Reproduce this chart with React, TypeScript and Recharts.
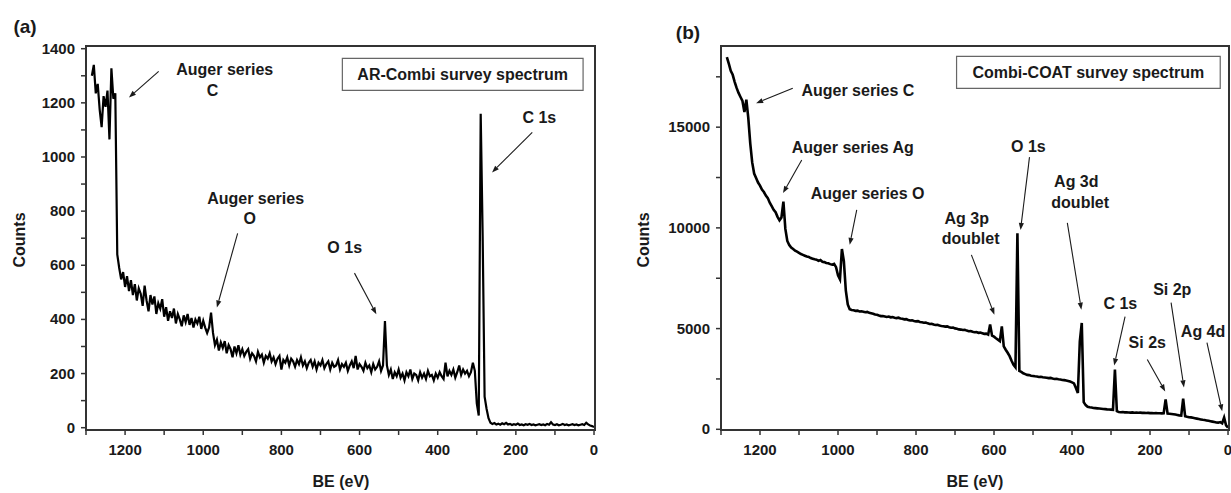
import {
  Line,
  LineChart,
  ReferenceArea,
  ReferenceDot,
  ReferenceLine,
  XAxis,
  YAxis,
} from "recharts";

const FONT = '"Liberation Sans", Arial, Helvetica, sans-serif';
const INK = "#1a1a1a";
const FRAME = "#333";

// binding energy sampling of both surveys: 1285 eV down to 0 eV in 5 eV steps
const BE_START = 1285;
const BE_STEP = 5;
const BE_DOMAIN: [number, number] = [-2.5, 1300];

// (a) AR-Combi survey, counts
const arCombiCounts = [
  1300, 1340, 1235, 1270, 1175, 1110, 1225, 1185, 1245, 1065, // 1285-1240
  1328, 1215, 1235, 640, 590, 548, 575, 520, 560, 505, // 1235-1190
  545, 490, 530, 470, 515, 495, 450, 525, 470, 430, // 1185-1140
  490, 455, 485, 420, 460, 440, 475, 410, 445, 395, // 1135-1090
  430, 405, 440, 385, 420, 400, 375, 415, 390, 420, // 1085-1040
  380, 405, 370, 400, 385, 410, 365, 395, 370, 350, // 1035-990
  370, 425, 350, 305, 325, 285, 315, 295, 320, 275, // 985-940
  305, 290, 260, 300, 275, 305, 270, 290, 265, 280, // 935-890
  290, 255, 275, 265, 245, 280, 260, 270, 240, 265, // 885-840
  255, 275, 245, 260, 235, 255, 265, 215, 250, 240, // 835-790
  260, 230, 255, 245, 225, 250, 235, 260, 230, 245, // 785-740
  220, 240, 250, 225, 245, 215, 240, 230, 250, 220, // 735-690
  235, 245, 215, 240, 225, 230, 250, 215, 235, 225, // 685-640
  240, 210, 230, 245, 220, 265, 215, 235, 225, 210, // 635-590
  240, 220, 230, 205, 235, 215, 225, 245, 210, 230, // 585-540
  394, 230, 195, 215, 180, 205, 190, 215, 185, 200, // 535-490
  175, 205, 190, 215, 180, 200, 195, 175, 205, 185, // 485-440
  200, 180, 210, 190, 195, 175, 200, 185, 205, 190, // 435-390
  180, 240, 190, 210, 195, 215, 185, 205, 230, 195, // 385-340
  215, 200, 210, 190, 205, 240, 210, 90, 45, 1160, // 335-290
  710, 115, 70, 35, 18, 14, 17, 12, 15, 11, // 285-240
  16, 13, 18, 12, 14, 10, 13, 11, 15, 10, // 235-190
  12, 9, 13, 11, 14, 10, 12, 9, 11, 13, // 185-140
  10, 12, 9, 14, 11, 20, 12, 10, 13, 9, // 135-90
  11, 14, 10, 12, 9, 11, 13, 10, 12, 9, // 85-40
  11, 13, 10, 18, 12, 8, 6, 2, // 35-0
];

// (b) Combi-COAT survey
const combiCoatCounts = [
  18480, 18150, 17800, 17600, 17250, 16950, 16700, 16500, 16300, 15750, // 1285-1240
  16370, 15450, 14200, 13250, 12700, 12480, 12250, 12100, 11900, 11780, // 1235-1190
  11600, 11480, 11250, 11080, 10900, 10780, 10550, 10380, 10520, 11300, // 1185-1140
  9950, 9350, 9150, 9020, 8950, 8870, 8820, 8760, 8700, 8660, // 1135-1090
  8620, 8580, 8560, 8500, 8470, 8440, 8420, 8360, 8400, 8320, // 1085-1040
  8300, 8260, 8240, 8200, 8170, 8210, 8050, 7650, 7450, 8950, // 1035-990
  8350, 6900, 6200, 5960, 5920, 5910, 5880, 5890, 5850, 5860, // 985-940
  5840, 5810, 5830, 5780, 5760, 5740, 5700, 5690, 5650, 5620, // 935-890
  5620, 5600, 5580, 5600, 5560, 5570, 5540, 5520, 5540, 5500, // 885-840
  5490, 5460, 5470, 5430, 5400, 5410, 5380, 5360, 5370, 5330, // 835-790
  5310, 5290, 5300, 5260, 5230, 5240, 5200, 5180, 5190, 5150, // 785-740
  5130, 5120, 5100, 5110, 5070, 5040, 5050, 5010, 4990, 4960, // 735-690
  4950, 4930, 4940, 4900, 4870, 4880, 4840, 4820, 4830, 4790, // 685-640
  4800, 4770, 4740, 4750, 4700, 5200, 4650, 4600, 4520, 4450, // 635-590
  4380, 5110, 4120, 3950, 3800, 3630, 3400, 3200, 3080, 9730, // 585-540
  2900, 2850, 2780, 2740, 2700, 2690, 2660, 2650, 2630, 2620, // 535-490
  2600, 2610, 2580, 2570, 2560, 2540, 2550, 2520, 2500, 2510, // 485-440
  2480, 2470, 2450, 2440, 2420, 2400, 2370, 2330, 2280, 2050, // 435-390
  1800, 4370, 5280, 1350, 1200, 1120, 1090, 1080, 1060, 1050, // 385-340
  1040, 1030, 1020, 1010, 1000, 990, 985, 975, 965, 2970, // 335-290
  900, 860, 850, 855, 840, 845, 835, 830, 840, 825, // 285-240
  830, 820, 825, 815, 820, 810, 815, 805, 810, 800, // 235-190
  805, 795, 800, 790, 795, 1485, 780, 770, 760, 750, // 185-140
  730, 710, 690, 680, 1520, 650, 620, 600, 590, 570, // 135-90
  550, 530, 510, 490, 470, 460, 440, 420, 400, 380, // 85-40
  360, 340, 330, 360, 300, 580, 200, 85, // 35-0
];

const beTicks = [1300, 1200, 1100, 1000, 900, 800, 700, 600, 500, 400, 300, 200, 100, 0];
const beLabels = [1200, 1000, 800, 600, 400, 200, 0];
const countTicksA = [0, 100, 200, 300, 400, 500, 600, 700, 800, 900, 1000, 1100, 1200, 1300, 1400];
const countLabelsA = [0, 200, 400, 600, 800, 1000, 1200, 1400];
const countTicksB = [0, 2500, 5000, 7500, 10000, 12500, 15000, 17500];
const countLabelsB = [0, 5000, 10000, 15000];

// annotations, placed in data coordinates [BE, counts]
const notesA: [string, number, number][] = [
  ["Auger series", 945, 1324],
  ["C", 976, 1246],
  ["Auger series", 866, 848],
  ["O", 881, 773],
  ["O 1s", 638, 667],
  ["C 1s", 140, 1146],
];
const arrowsA: [number, number, number, number][] = [
  [1114, 1316, 1190, 1220],
  [912, 718, 965, 444],
  [613, 571, 557, 419],
  [158, 1091, 261, 943],
];
const notesB: [string, number, number][] = [
  ["Auger series C", 949, 16830],
  ["Auger series Ag", 962, 14010],
  ["Auger series O", 924, 11730],
  ["O 1s", 512, 14060],
  ["Ag 3d", 389, 12280],
  ["doublet", 379, 11240],
  ["Ag 3p", 670, 10490],
  ["doublet", 660, 9455],
  ["C 1s", 276, 6240],
  ["Si 2s", 207, 4300],
  ["Si 2p", 143, 6930],
  ["Ag 4d", 64, 4850],
];
const arrowsB: [number, number, number, number][] = [
  [1116, 16930, 1210, 16190],
  [1093, 13365, 1141, 11730],
  [952, 10890, 970, 9160],
  [509, 13510, 532, 9900],
  [412, 10250, 376, 5940],
  [658, 8660, 599, 5690],
  [264, 5590, 292, 3170],
  [207, 3465, 161, 1880],
  [146, 6290, 113, 2080],
  [54, 4300, 15, 890],
];

const toRows = (counts: number[]) =>
  counts.map((c, i) => ({ be: BE_START - i * BE_STEP, counts: c }));

const textStyle = { fontFamily: FONT, fontWeight: 700, fill: INK };

const xTick = (p: any) => {
  const v = p.payload.value;
  if (!beLabels.includes(v)) return <g />;
  return (
    <text x={p.x} y={p.y + 18} textAnchor="middle" fontSize={15} {...textStyle}>
      {v}
    </text>
  );
};

const yTick = (labels: number[]) => (p: any) => {
  const v = p.payload.value;
  if (!labels.includes(v)) return <g />;
  return (
    <text x={p.x - 4} y={p.y + 5} textAnchor="end" fontSize={15} {...textStyle}>
      {v}
    </text>
  );
};

const arrow = (p: any) => {
  const { x1, y1, x2, y2 } = p;
  const a = Math.atan2(y2 - y1, x2 - x1);
  const bx = x2 - 7 * Math.cos(a);
  const by = y2 - 7 * Math.sin(a);
  const s = Math.sin(a) * 2.6;
  const c = Math.cos(a) * 2.6;
  return (
    <g>
      <line x1={x1} y1={y1} x2={bx} y2={by} stroke={INK} strokeWidth={1.1} />
      <polygon points={`${x2},${y2} ${bx + s},${by - c} ${bx - s},${by + c}`} fill={INK} />
    </g>
  );
};

const note = (text: string, size = 16) => (p: any) => (
  <text x={p.cx} y={p.cy} textAnchor="middle" dominantBaseline="central" fontSize={size} {...textStyle}>
    {text}
  </text>
);

type PanelProps = {
  rows: { be: number; counts: number }[];
  yDomain: [number, number];
  yTicks: number[];
  yLabels: number[];
  yAxisWidth: number;
  width: number;
  right: number;
  notes: [string, number, number][];
  arrows: [number, number, number, number][];
  box: [number, number, number, number];
  boxText: string;
  lineWidth: number;
};

const TOP = 46;
const BOTTOM_GAP = 3;
const X_AXIS_H = 60;
const HEIGHT = 493;

function Survey(props: PanelProps) {
  const { rows, yDomain, box } = props;
  const plotLeft = props.yAxisWidth;
  const plotRight = props.width - props.right;
  const plotBottom = HEIGHT - BOTTOM_GAP - X_AXIS_H;
  return (
    <div style={{ position: "relative", width: props.width, height: HEIGHT }}>
      <LineChart
        width={props.width}
        height={HEIGHT}
        data={rows}
        margin={{ top: TOP, right: props.right, bottom: BOTTOM_GAP, left: 0 }}
      >
        <XAxis
          dataKey="be"
          type="number"
          domain={BE_DOMAIN}
          reversed
          allowDataOverflow
          ticks={beTicks}
          interval={0}
          height={X_AXIS_H}
          tickSize={5}
          axisLine={{ stroke: FRAME, strokeWidth: 2 }}
          tickLine={{ stroke: FRAME, strokeWidth: 1.5 }}
          tick={xTick}
        />
        <YAxis
          type="number"
          domain={yDomain}
          allowDataOverflow
          ticks={props.yTicks}
          interval={0}
          width={props.yAxisWidth}
          tickSize={5}
          axisLine={{ stroke: FRAME, strokeWidth: 2 }}
          tickLine={{ stroke: FRAME, strokeWidth: 1.5 }}
          tick={yTick(props.yLabels)}
        />
        <ReferenceArea
          x1={box[0]}
          x2={box[1]}
          y1={box[2]}
          y2={box[3]}
          fill="#fff"
          fillOpacity={1}
          stroke="#666"
          strokeWidth={1.2}
        />
        <ReferenceDot
          x={(box[0] + box[1]) / 2}
          y={(box[2] + box[3]) / 2}
          r={0}
          shape={note(props.boxText)}
        />
        <Line
          type="linear"
          dataKey="counts"
          stroke="#000"
          strokeWidth={props.lineWidth}
          dot={false}
          isAnimationActive={false}
        />
        {props.arrows.map(([xa, ya, xb, yb], i) => (
          <ReferenceLine
            key={`ar${i}`}
            segment={[
              { x: xa, y: ya },
              { x: xb, y: yb },
            ]}
            shape={arrow}
          />
        ))}
        {props.notes.map(([t, x, y], i) => (
          <ReferenceDot key={`n${i}`} x={x} y={y} r={0} shape={note(t)} />
        ))}
      </LineChart>
      {/* closed frame round the plot area, drawn over the chart */}
      <svg
        width={props.width}
        height={HEIGHT}
        style={{ position: "absolute", left: 0, top: 0, zIndex: 5, pointerEvents: "none" }}
      >
        <rect
          x={plotLeft}
          y={TOP}
          width={plotRight - plotLeft}
          height={plotBottom - TOP}
          fill="none"
          stroke={FRAME}
          strokeWidth={2}
        />
      </svg>
    </div>
  );
}

const abs = (left: number, top: number, size: number, rotate = false): React.CSSProperties => ({
  position: "absolute",
  left,
  top,
  transform: `translate(-50%, -50%)${rotate ? " rotate(-90deg)" : ""}`,
  fontFamily: FONT,
  fontWeight: 700,
  fontSize: size,
  color: INK,
  whiteSpace: "nowrap",
  lineHeight: 1,
});

export default function App() {
  return (
    <div
      style={{
        position: "fixed",
        left: 0,
        top: 0,
        width: 1231,
        height: 493,
        background: "#fff",
        overflow: "hidden",
      }}
    >
      <div style={{ position: "absolute", left: 0, top: 0 }}>
        <Survey
          rows={toRows(arCombiCounts)}
          yDomain={[-8.5, 1410]}
          yTicks={countTicksA}
          yLabels={countLabelsA}
          yAxisWidth={86}
          width={600}
          right={5}
          notes={notesA}
          arrows={arrowsA}
          box={[644, 28, 1246, 1364]}
          boxText="AR-Combi survey spectrum"
          lineWidth={2.2}
        />
      </div>
      <div style={{ position: "absolute", left: 600, top: 0, width: 631, height: 493, overflow: "hidden" }}>
        <Survey
          rows={toRows(combiCoatCounts)}
          yDomain={[-35, 19030]}
          yTicks={countTicksB}
          yLabels={countLabelsB}
          yAxisWidth={121}
          width={631}
          right={2}
          notes={notesB}
          arrows={arrowsB}
          box={[696, 20, 16930, 18510]}
          boxText="Combi-COAT survey spectrum"
          lineWidth={2.6}
        />
      </div>
      <div style={abs(25, 26, 19)}>(a)</div>
      <div style={abs(688, 32, 19)}>(b)</div>
      <div style={abs(20, 240, 16, true)}>Counts</div>
      <div style={abs(644, 240, 16, true)}>Counts</div>
      <div style={abs(341, 482, 16)}>BE (eV)</div>
      <div style={abs(975, 482, 16)}>BE (eV)</div>
    </div>
  );
}
